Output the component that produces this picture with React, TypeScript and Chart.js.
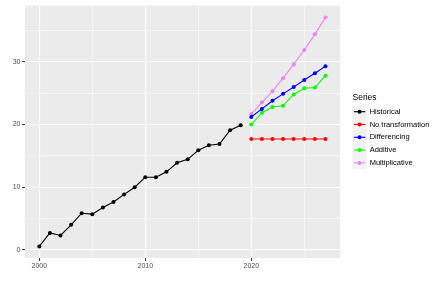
import React, { useEffect, useRef } from "react";
import { Chart, registerables } from "chart.js";
Chart.register(...registerables);

const histYears = [2000, 2001, 2002, 2003, 2004, 2005, 2006, 2007, 2008, 2009, 2010, 2011, 2012, 2013, 2014, 2015, 2016, 2017, 2018, 2019];
const histValues = [0.55, 2.7, 2.3, 4.0, 5.85, 5.7, 6.75, 7.65, 8.85, 10.0, 11.6, 11.6, 12.45, 13.9, 14.45, 15.9, 16.7, 16.9, 19.1, 19.9];
const fcYears = [2020, 2021, 2022, 2023, 2024, 2025, 2026, 2027];
const noTransform = [17.7, 17.7, 17.7, 17.7, 17.7, 17.7, 17.7, 17.7];
const differencing = [21.2, 22.5, 23.8, 24.9, 26.0, 27.1, 28.2, 29.3];
const additive = [20.0, 21.9, 22.8, 23.0, 24.8, 25.8, 25.9, 27.8];
const multiplicative = [21.7, 23.5, 25.3, 27.4, 29.6, 31.9, 34.4, 37.1];
const seriesNames = ["Historical", "No transformation", "Differencing", "Additive", "Multiplicative"];
const seriesColors = ["#000000", "#FF0000", "#0000FF", "#00FF00", "#EE82EE"];
const xTicks = [2000, 2005, 2010, 2015, 2020, 2025];
const yTicks = [0, 5, 10, 15, 20, 25, 30, 35];

const FONT = "'Liberation Sans', Arial, sans-serif";

export default function App() {
  const ref = useRef<HTMLCanvasElement | null>(null);
  useEffect(() => {
    if (!ref.current) return;
    const series = [histValues, noTransform, differencing, additive, multiplicative];
    const datasets = series.map((vals, i) => {
      const years = i === 0 ? histYears : fcYears;
      return {
        label: seriesNames[i],
        data: vals.map((v, j) => ({ x: years[j], y: v })),
        borderColor: seriesColors[i],
        backgroundColor: seriesColors[i],
        borderWidth: 1.1,
        pointRadius: 2,
        pointBorderWidth: 0,
        tension: 0,
      };
    });

    const bgPlugin = {
      id: "bg",
      beforeDraw(chart: any) {
        const { ctx, chartArea: a } = chart;
        ctx.save();
        ctx.fillStyle = "#EBEBEB";
        ctx.fillRect(a.left, a.top, a.right - a.left, a.bottom - a.top);
        ctx.restore();
      },
    };

    const legendPlugin = {
      id: "ggLegend",
      afterDraw(chart: any) {
        const ctx = chart.ctx;
        ctx.save();
        ctx.fillStyle = "#000";
        ctx.font = `8.5px ${FONT}`;
        ctx.textBaseline = "middle";
        ctx.textAlign = "left";
        ctx.fillText("Series", 352.5, 97.5);
        const kx = 352.3, kw = 14.5, ky = 105.3, kh = 12.8;
        ctx.fillStyle = "#F2F2F2";
        ctx.fillRect(kx, ky, kw, kh * seriesNames.length);
        seriesNames.forEach((name, i) => {
          const cy = ky + kh * i + kh / 2;
          ctx.strokeStyle = seriesColors[i];
          ctx.lineWidth = 1.1;
          ctx.beginPath();
          ctx.moveTo(kx + 1.5, cy);
          ctx.lineTo(kx + kw - 1.5, cy);
          ctx.stroke();
          ctx.fillStyle = seriesColors[i];
          ctx.beginPath();
          ctx.arc(kx + kw / 2, cy, 2, 0, Math.PI * 2);
          ctx.fill();
          ctx.fillStyle = "#000";
          ctx.font = `7.5px ${FONT}`;
          ctx.fillText(name, 369.7, cy);
        });
        ctx.restore();
      },
    };

    const gridCommon = (majorTest: (v: number) => boolean) => ({
      color: "#FFFFFF",
      lineWidth: (c: any) => (c.tick && majorTest(c.tick.value) ? 1.1 : 0.55),
      drawTicks: true,
      tickLength: 3,
      tickColor: (c: any) => (c.tick && majorTest(c.tick.value) ? "#333333" : "rgba(0,0,0,0)"),
      tickWidth: 1,
    });

    const chart = new Chart(ref.current, {
      type: "line",
      data: { datasets: datasets as any },
      options: {
        animation: false,
        responsive: false,
        layout: { padding: { left: 0, top: 4, right: 95, bottom: 0 } },
        plugins: { legend: { display: false }, tooltip: { enabled: false } },
        scales: {
          x: {
            type: "linear",
            min: 1998.65,
            max: 2028.37,
            border: { display: false },
            grid: gridCommon((v) => v % 10 === 0) as any,
            afterBuildTicks: (s: any) => {
              s.ticks = xTicks.map((v) => ({ value: v }));
            },
            afterFit: (s: any) => {
              s.height = 25;
            },
            ticks: {
              padding: 1,
              maxRotation: 0,
              autoSkip: false,
              color: "#4D4D4D",
              font: { family: FONT, size: 7 },
              callback: (v: any) => (Number(v) % 10 === 0 ? String(v) : ""),
            },
          },
          y: {
            type: "linear",
            min: -1.3,
            max: 38.97,
            border: { display: false },
            grid: gridCommon((v) => v % 10 === 0) as any,
            afterBuildTicks: (s: any) => {
              s.ticks = yTicks.map((v) => ({ value: v }));
            },
            afterFit: (s: any) => {
              s.width = 25;
            },
            ticks: {
              padding: 1.5,
              autoSkip: false,
              color: "#4D4D4D",
              font: { family: FONT, size: 7 },
              callback: (v: any) => (Number(v) % 10 === 0 ? String(v) : ""),
            },
          },
        },
      },
      plugins: [bgPlugin, legendPlugin],
    });
    return () => chart.destroy();
  }, []);

  return (
    <div style={{ position: "fixed", left: 0, top: 0, width: 435, height: 283, background: "#fff" }}>
      <canvas ref={ref} width={435} height={283} style={{ width: 435, height: 283 }} />
    </div>
  );
}
